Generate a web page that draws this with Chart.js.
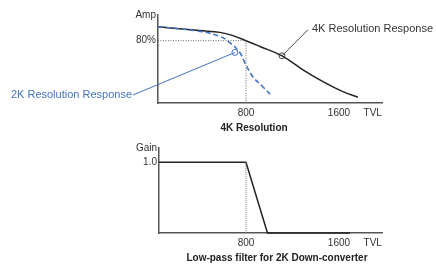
<!DOCTYPE html>
<html>
<head>
<meta charset="utf-8">
<script src="https://cdn.jsdelivr.net/npm/chart.js@4/dist/chart.umd.min.js"></script>
<style>
html, body { margin: 0; padding: 0; background: #fff; }
canvas { display: block; }
</style>
</head>
<body>
<canvas id="ampChart" width="436" height="132"></canvas>
<canvas id="filterChart" width="436" height="132"></canvas>
<script>
// top chart: amplitude response (TVL, %)
const response4K = [[43, 98], [404, 93], [576, 90.7], [688, 86.5], [800, 80], [920, 72.6], [1110, 60.6], [1290, 42.6], [1462, 27.5], [1634, 14.6], [1763, 7.4]];
const response2K = [[43, 98], [404, 92], [576, 85.5], [662, 77.4], [748, 64.5], [791, 51.6], [860, 33.5], [946, 20.6], [1024, 9]];
const marker4K = [1110, 60.6];
const marker2K = [705, 64.9];
const leader4K = [[1110, 60.6], [1333, 94]];
const leader2K = [[-172, 10.3], [705, 64.9]];
const guide80 = [[43, 80], [800, 80], [800, 0]];
const ampTicks = [80, 113];
const ampTickLabels = ['80%', 'Amp'];

// bottom chart: low-pass filter gain
const filterGain = [[52, 1], [800, 1], [985, 0], [1694, 0]];
const guide800 = [[800, 1], [800, 0]];
const gainTicks = [1.0, 1.2];
const gainTickLabels = ['1.0', 'Gain'];

const tvlTicks = [800, 1600, 1890];
const tvlTickLabels = ['800', '1600', 'TVL'];

const FONT = 'Liberation Sans';
const BLUE = '#4472c4';
const INK = '#222';
const AXIS = '#555';

const pts = (arr) => arr.map((p) => ({ x: p[0], y: p[1] }));

// draws free text: titles and the leader labels
function textPlugin(items) {
    return {
        id: 'texts',
        afterDraw(chart) {
            const ctx = chart.ctx;
            const xs = chart.scales.x, ys = chart.scales.y;
            items.forEach((t) => {
                ctx.save();
                ctx.font = t.font;
                ctx.fillStyle = t.color;
                ctx.textAlign = t.align;
                ctx.textBaseline = 'middle';
                let px = t.px, py = t.py;
                if (t.at) {
                    px = xs.getPixelForValue(t.at[0]) + (t.dx || 0);
                    py = ys.getPixelForValue(t.at[1]) + (t.dy || 0);
                }
                ctx.fillText(t.text, px, py);
                ctx.restore();
            });
        },
    };
}

function makeScales(xMin, yMax, yTicks, yLabels, yWidth, xHeight) {
    return {
        x: {
            type: 'linear',
            min: xMin,
            max: 1970,
            afterBuildTicks: (s) => { s.ticks = tvlTicks.map((v) => ({ value: v })); },
            afterFit: (s) => { s.height = xHeight; },
            grid: { display: false, drawTicks: false },
            border: { display: true, color: AXIS, width: 1.5 },
            ticks: {
                autoSkip: false,
                maxRotation: 0,
                padding: 4,
                color: '#333',
                font: { family: FONT, size: 10 },
                callback: (v) => tvlTickLabels[tvlTicks.indexOf(v)],
            },
        },
        y: {
            type: 'linear',
            min: 0,
            max: yMax,
            afterBuildTicks: (s) => { s.ticks = yTicks.map((v) => ({ value: v })); },
            afterFit: (s) => { s.width = yWidth; },
            grid: { display: false, drawTicks: false },
            border: { display: true, color: AXIS, width: 1.5 },
            ticks: {
                autoSkip: false,
                padding: 2,
                color: '#333',
                font: { family: FONT, size: 10 },
                callback: (v) => yLabels[yTicks.indexOf(v)],
            },
        },
    };
}

const lineDefaults = { showLine: true, pointRadius: 0, fill: false, clip: false };

new Chart(document.getElementById('ampChart').getContext('2d'), {
    type: 'scatter',
    data: {
        datasets: [
            { ...lineDefaults, data: pts(guide80), borderColor: '#666', borderWidth: 1, borderDash: [1, 1.5] },
            { ...lineDefaults, data: pts(response2K), borderColor: BLUE, borderWidth: 1.6, borderDash: [5, 3], tension: 0.4 },
            { ...lineDefaults, data: pts(response4K), borderColor: INK, borderWidth: 1.5, tension: 0.4 },
            { ...lineDefaults, data: pts(leader2K), borderColor: BLUE, borderWidth: 1 },
            { ...lineDefaults, data: pts(leader4K), borderColor: '#444', borderWidth: 1 },
            { data: pts([marker2K]), showLine: false, pointRadius: 3, pointBorderColor: BLUE, pointBackgroundColor: '#fff', pointBorderWidth: 1, clip: false },
            { data: pts([marker4K]), showLine: false, pointRadius: 3, pointBorderColor: '#444', pointBackgroundColor: '#fff', pointBorderWidth: 1, clip: false },
        ],
    },
    options: {
        responsive: false,
        animation: false,
        layout: { padding: { left: 0, right: 54, top: 15, bottom: 0 } },
        scales: makeScales(43, 113, ampTicks, ampTickLabels, 158, 29),
        plugins: { legend: { display: false }, tooltip: { enabled: false } },
    },
    plugins: [textPlugin([
        { text: '2K Resolution Response', at: leader2K[0], dx: -1, dy: 0, align: 'right', color: BLUE, font: '11px ' + FONT },
        { text: '4K Resolution Response', at: leader4K[1], dx: 4, dy: -1, align: 'left', color: '#333', font: '11px ' + FONT },
        { text: '4K Resolution', px: 254, py: 128, align: 'center', color: '#222', font: 'bold 10px ' + FONT },
    ])],
});

new Chart(document.getElementById('filterChart').getContext('2d'), {
    type: 'scatter',
    data: {
        datasets: [
            { ...lineDefaults, data: pts(guide800), borderColor: '#777', borderWidth: 1, borderDash: [1, 1] },
            { ...lineDefaults, data: pts(filterGain), borderColor: INK, borderWidth: 1.5 },
        ],
    },
    options: {
        responsive: false,
        animation: false,
        layout: { padding: { left: 0, right: 54, top: 16, bottom: 0 } },
        scales: makeScales(52, 1.2, gainTicks, gainTickLabels, 159, 31),
        plugins: { legend: { display: false }, tooltip: { enabled: false } },
    },
    plugins: [textPlugin([
        { text: 'Low-pass filter for 2K Down-converter', px: 277, py: 126, align: 'center', color: '#222', font: 'bold 10px ' + FONT },
    ])],
});
</script>
</body>
</html>
